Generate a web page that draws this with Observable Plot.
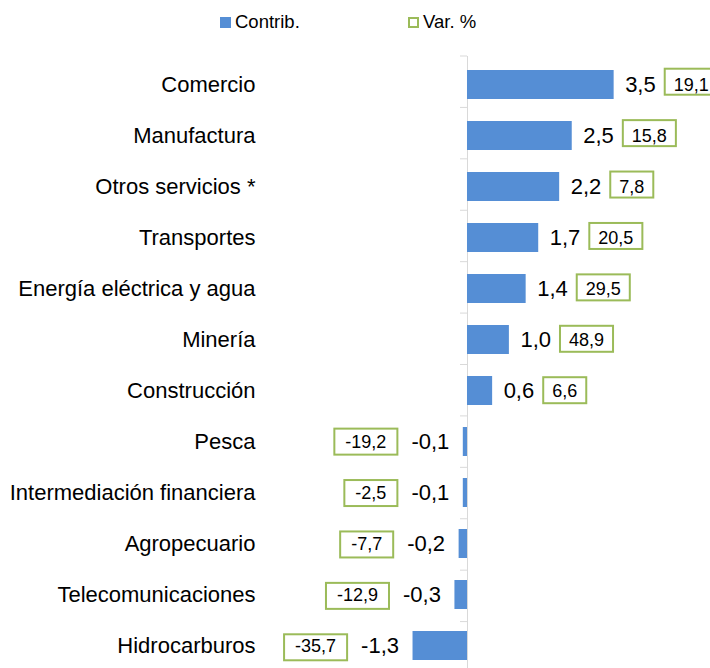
<!DOCTYPE html>
<html>
<head>
<meta charset="utf-8">
<script src="https://cdn.jsdelivr.net/npm/d3@7"></script>
<script src="https://cdn.jsdelivr.net/npm/@observablehq/plot@0.6"></script>
<style>
  html, body { margin: 0; padding: 0; background: #fff; }
  #wrap { position: relative; width: 710px; height: 668px; font-family: "Liberation Sans", Arial, sans-serif; color: #000; overflow: hidden; }
  .leg { position: absolute; font-size: 18.5px; line-height: 1; }
  .sw { position: absolute; box-sizing: border-box; width: 11px; height: 11px; }
</style>
</head>
<body>
<div id="wrap">
  <div class="sw" style="left:220px;top:17px;background:#558ed5;"></div>
  <div class="leg" style="left:235px;top:13px;">Contrib.</div>
  <div class="sw" style="left:408px;top:17px;border:2px solid #9bbb59;background:#fff;"></div>
  <div class="leg" style="left:423px;top:13px;">Var. %</div>
</div>
<script>
const categories = ["Comercio","Manufactura","Otros servicios *","Transportes","Energía eléctrica y agua","Minería","Construcción","Pesca","Intermediación financiera","Agropecuario","Telecomunicaciones","Hidrocarburos"];
const contrib = [3.5, 2.5, 2.2, 1.7, 1.4, 1.0, 0.6, -0.1, -0.1, -0.2, -0.3, -1.3];
const varPct = [19.1, 15.8, 7.8, 20.5, 29.5, 48.9, 6.6, -19.2, -2.5, -7.7, -12.9, -35.7];

const data = categories.map((c, i) => ({cat: c, contrib: contrib[i], pct: varPct[i]}));
const pos = data.filter(d => d.contrib >= 0);
const neg = data.filter(d => d.contrib < 0);
const fmt = v => v.toFixed(1).replace(".", ",");

const BLUE = "#558ed5", GREEN = "#9bbb59", AXIS = "#d9d9d9";

const plot = Plot.plot({
  width: 710,
  height: 668,
  marginLeft: 264,
  marginRight: 0,
  marginTop: 56,
  marginBottom: 0,
  style: {fontFamily: "'Liberation Sans', Arial, sans-serif", fontSize: "22px", color: "#000", background: "transparent", overflow: "visible"},
  x: {domain: [-4.845, 5.8], axis: null},
  y: {domain: categories, range: [56, 673], paddingInner: 0.44, paddingOuter: 0.22, axis: null},
  marks: [
    Plot.axisY({tickSize: 0, tickPadding: 9, fontSize: 22, label: null}),
    Plot.ruleX([0], {stroke: AXIS, strokeWidth: 1}),
    Plot.barX(data, {x: "contrib", y: "cat", fill: BLUE}),
    Plot.text(pos, {x: "contrib", y: "cat", text: d => fmt(d.contrib), textAnchor: "start", dx: 11, fontSize: 22, fill: "#000"}),
    Plot.text(neg, {x: "contrib", y: "cat", text: d => fmt(d.contrib), textAnchor: "end", dx: -14, fontSize: 22, fill: "#000"}),
    Plot.text(pos, {x: "contrib", y: "cat", text: d => fmt(d.pct), textAnchor: "start", dx: 60, fontSize: 18, fill: "#000"}),
    Plot.text(neg, {x: "contrib", y: "cat", text: d => fmt(d.pct), textAnchor: "end", dx: -60, fontSize: 18, fill: "#000"})
  ]
});

const wrap = document.getElementById("wrap");
plot.style.position = "absolute";
plot.style.left = "0px";
plot.style.top = "0px";
wrap.appendChild(plot);

const svg = d3.select(plot);
const svgRect = plot.getBoundingClientRect();
const yS = plot.scale("y");
const xS = plot.scale("x");
const yBand = d3.scaleBand().domain(yS.domain).range(yS.range).paddingInner(yS.paddingInner ?? 0.44).paddingOuter(yS.paddingOuter ?? 0.22).align(yS.align ?? 0.5);
const xLin = d3.scaleLinear().domain(xS.domain).range(xS.range);
const yAt = c => yBand(c);

// text mark groups, in mark order: val-pos, val-neg, pct-pos, pct-neg
const textGroups = Array.from(plot.querySelectorAll('g[aria-label="text"]'));
const [gValPos, gValNeg, gPctPos, gPctNeg] = textGroups;
const boxes = svg.append("g").attr("aria-label", "boxes");

function placePct(gVal, gPct, rows, positive) {
  const vals = gVal.querySelectorAll("text");
  const pcts = gPct.querySelectorAll("text");
  const pad = positive ? 9 : 11;
  const gap = positive ? 9 : 14;
  pcts.forEach((t, i) => {
    const vr = vals[i].getBoundingClientRect();
    const pr = t.getBoundingClientRect();
    const desiredLeft = positive ? (vr.right + gap + pad) : (vr.left - gap - pad - pr.width);
    const shift = desiredLeft - pr.left;
    const cur = parseFloat(t.getAttribute("x")) || 0;
    t.setAttribute("x", cur + shift);
    const nr = t.getBoundingClientRect();
    const cy = yAt(rows[i].cat) + yBand.bandwidth() / 2;
    boxes.append("rect")
      .attr("x", nr.left - svgRect.left - pad)
      .attr("y", cy - 13)
      .attr("width", nr.width + 2 * pad)
      .attr("height", 26)
      .attr("fill", "#fff")
      .attr("stroke", GREEN)
      .attr("stroke-width", 2);
  });
}
placePct(gValPos, gPctPos, pos, true);
placePct(gValNeg, gPctNeg, neg, false);

// bring the % labels above their boxes
plot.appendChild(gPctPos);
plot.appendChild(gPctNeg);

// category boundary tick marks on the vertical axis
const x0 = xLin(0);
const ticks = svg.insert("g", ":first-child").attr("aria-label", "cat-ticks");
const half = (yBand.step() - yBand.bandwidth()) / 2;
const bounds = categories.map(c => yAt(c) - half);
bounds.push(yAt(categories[categories.length - 1]) + yBand.bandwidth() + half);
bounds.forEach(b => {
  ticks.append("line").attr("x1", x0 - 7).attr("x2", x0).attr("y1", b).attr("y2", b)
    .attr("stroke", AXIS).attr("stroke-width", 1);
});
</script>
</body>
</html>
